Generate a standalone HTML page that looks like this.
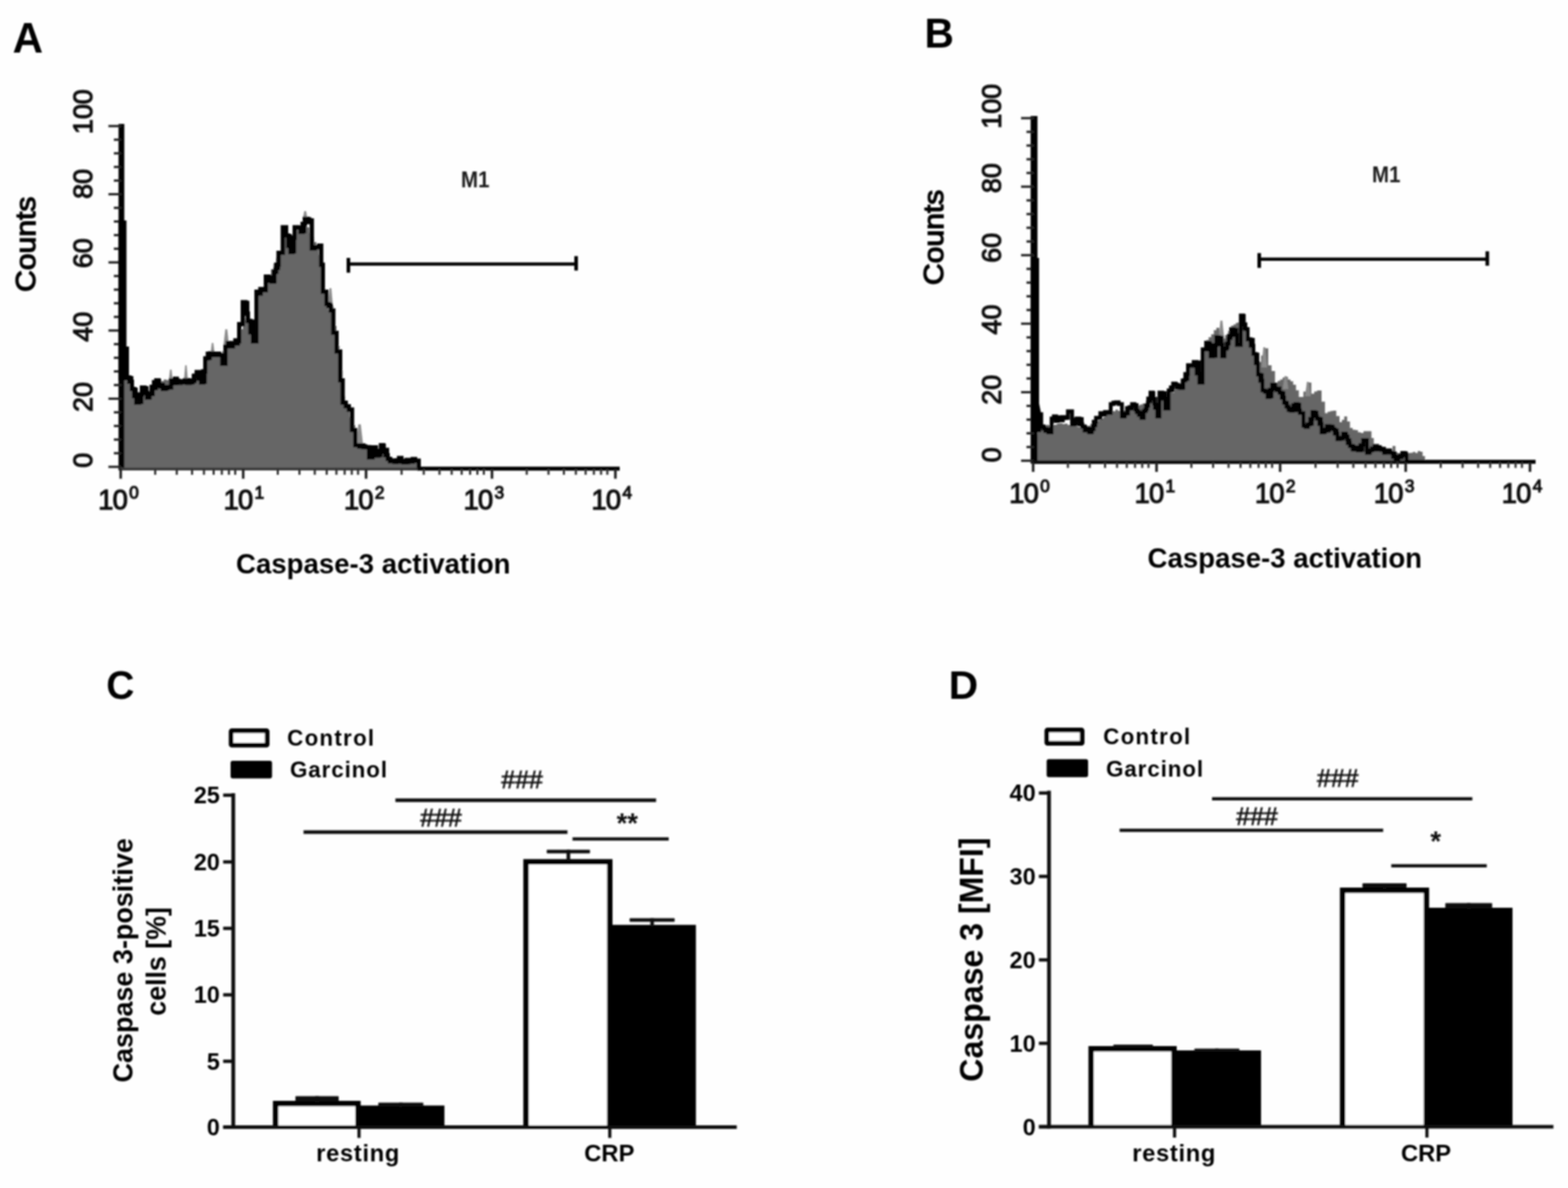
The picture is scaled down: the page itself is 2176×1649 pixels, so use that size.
<!DOCTYPE html>
<html lang="en"><head><meta charset="utf-8"><title>Caspase-3 activation figure</title>
<style>
html,body{margin:0;padding:0;background:#fefefe;}
body{width:2176px;height:1649px;overflow:hidden;}
svg{display:block;font-family:"Liberation Sans", Arial, Helvetica, sans-serif;}
</style></head>
<body>
<svg width="2176" height="1649" viewBox="0 0 2176 1649">
<defs><filter id="soft" x="-2%" y="-2%" width="104%" height="104%"><feGaussianBlur stdDeviation="1.3"/></filter></defs>
<rect width="2176" height="1649" fill="#fefefe"/>
<g filter="url(#soft)">
<text x="17.5" y="72.5" font-size="58.5" font-weight="bold" text-anchor="start" fill="#000">A</text>
<polygon points="168.5,651 172.0,524.0 175.7,524.0 175.7,528.5 179.3,528.5 179.3,533.5 183.0,533.5 183.0,538.0 189.0,538.0 189.0,550.0 192.8,550.0 192.8,550.0 196.5,550.0 196.5,547.4 200.2,547.4 200.2,546.3 204.0,546.3 204.0,545.0 207.2,545.0 207.2,541.0 210.5,541.0 210.5,535.6 213.8,535.6 213.8,532.3 217.0,532.3 217.0,528.0 220.4,528.0 220.4,528.4 223.8,528.4 223.8,528.9 227.2,528.9 227.2,526.8 230.7,526.8 230.7,527.4 234.1,527.4 234.1,526.8 237.5,526.8 237.5,528.0 240.8,528.0 240.8,529.3 244.0,529.3 244.0,529.3 247.2,529.3 247.2,527.8 250.5,527.8 250.5,530.9 253.8,530.9 253.8,531.3 257.0,531.3 257.0,530.7 260.2,530.7 260.2,531.0 263.5,531.0 263.5,531.0 267.4,531.0 267.4,527.7 271.2,527.7 271.2,525.0 275.1,525.0 275.1,524.3 279.0,524.3 279.0,522.0 285.0,522.0 285.0,497.6 288.8,497.6 288.8,495.4 292.6,495.4 292.6,494.8 296.4,494.8 296.4,494.1 300.2,494.1 300.2,492.5 304.0,492.5 304.0,493.0 308.5,493.0 308.5,486.9 313.0,486.9 313.0,481.0 316.4,481.0 316.4,479.4 319.8,479.4 319.8,479.2 323.2,479.2 323.2,476.9 326.6,476.9 326.6,475.8 330.0,475.8 330.0,474.0 333.5,474.0 333.5,457.0 337.0,457.0 337.0,440.0 340.5,440.0 340.5,444.2 344.0,444.2 344.0,447.4 347.5,447.4 347.5,450.6 351.0,450.6 351.0,455.0 356.0,455.0 356.0,405.0 359.2,405.0 359.2,402.7 362.5,402.7 362.5,399.0 365.8,399.0 365.8,394.8 369.0,394.8 369.0,390.0 372.5,390.0 372.5,382.8 376.0,382.8 376.0,373.8 379.6,373.8 379.6,365.8 383.1,365.8 383.1,358.2 386.6,358.2 386.6,351.0 392.5,351.0 392.5,325.0 396.0,325.0 396.0,327.0 399.5,327.0 399.5,332.5 403.0,332.5 403.0,335.0 409.0,335.0 409.0,320.0 412.5,320.0 412.5,316.2 416.0,316.2 416.0,314.0 419.5,314.0 419.5,309.2 423.0,309.2 423.0,306.0 426.2,306.0 426.2,315.4 429.5,315.4 429.5,323.0 432.7,323.0 432.7,330.0 435.9,330.0 435.9,336.0 439.2,336.0 439.2,344.1 442.4,344.1 442.4,353.7 445.7,353.7 445.7,360.0 448.0,360.0 448.0,400.0 451.7,400.0 451.7,408.2 455.3,408.2 455.3,418.1 459.0,418.1 459.0,425.0 463.0,425.0 463.0,452.2 467.0,452.2 467.0,480.0 471.2,480.0 471.2,513.7 475.5,513.7 475.5,550.0 478.8,550.0 478.8,560.4 482.0,560.4 482.0,570.8 485.2,570.8 485.2,579.3 488.5,579.3 488.5,590.0 493.0,590.0 493.0,612.0 496.6,612.0 496.6,612.9 500.2,612.9 500.2,615.8 503.8,615.8 503.8,619.9 507.4,619.9 507.4,620.7 510.9,620.7 510.9,622.7 514.5,622.7 514.5,622.0 518.0,622.0 518.0,623.6 521.6,623.6 521.6,624.4 525.2,624.4 525.2,625.5 528.7,625.5 528.7,628.0 533.4,628.0 533.4,633.4 538.0,633.4 538.0,637.0 541.5,637.0 541.5,636.4 544.9,636.4 544.9,637.9 548.4,637.9 548.4,637.9 551.8,637.9 551.8,637.5 555.3,637.5 555.3,639.5 558.7,639.5 558.7,638.1 562.2,638.1 562.2,640.0 565.6,640.0 565.6,638.8 569.1,638.8 569.1,640.0 572.5,640.0 572.5,639.8 576.0,639.8 576.0,641.0 581,641.0 581,649 581,651" fill="#666"/>
<polygon points="419.5,308 422.1666666666667,293 424.8333333333333,293 427.5,308" fill="#8a8a8a"/>
<polygon points="454.5,430 457.1666666666667,400 459.8333333333333,400 462.5,430" fill="#8a8a8a"/>
<polygon points="494,618 497.3333333333333,589 500.6666666666667,589 504,618" fill="#8a8a8a"/>
<polygon points="255,530 257.0,507 259.0,507 261,530" fill="#8a8a8a"/>
<polygon points="234,530 236.0,513 238.0,513 240,530" fill="#8a8a8a"/>
<polygon points="292,492 294.0,476 296.0,476 298,492" fill="#8a8a8a"/>
<polygon points="310,480 312.6666666666667,457 315.3333333333333,457 318,480" fill="#8a8a8a"/>
<polyline points="176.0,524.0 179.5,524.0 179.5,530.1 183.0,530.1 183.0,540.0 186.0,540.0 186.0,549.8 189.0,549.8 189.0,559.0 193.0,559.0 193.0,547.6 197.0,547.6 197.0,538.0 200.5,538.0 200.5,545.7 204.0,545.7 204.0,552.0 207.2,552.0 207.2,546.9 210.5,546.9 210.5,536.9 213.8,536.9 213.8,530.5 217.0,530.5 217.0,528.0 220.0,528.0 220.0,534.4 223.0,534.4 223.0,534.3 226.0,534.3 226.0,540.0 229.5,540.0 229.5,537.1 233.0,537.1 233.0,538.0 237.5,538.0 237.5,528.0 240.8,528.0 240.8,531.9 244.0,531.9 244.0,528.5 247.2,528.5 247.2,531.5 250.5,531.5 250.5,529.3 253.8,529.3 253.8,530.9 257.0,530.9 257.0,527.7 260.2,527.7 260.2,531.6 263.5,531.6 263.5,531.0 266.7,531.0 266.7,528.8 269.8,528.8 269.8,521.5 273.0,521.5 273.0,516.5 276.0,516.5 276.0,525.5 279.0,525.5 279.0,531.0 282.0,531.0 282.0,515.5 285.0,515.5 285.0,497.6 288.5,497.6 288.5,490.9 292.0,490.9 292.0,490.5 295.0,490.5 295.0,493.0 298.0,493.0 298.0,492.4 301.0,492.4 301.0,490.9 304.0,490.9 304.0,493.0 308.5,493.0 308.5,505.0 313.0,505.0 313.0,481.0 316.4,481.0 316.4,476.2 319.8,476.2 319.8,480.8 323.2,480.8 323.2,476.6 326.6,476.6 326.6,477.0 330.0,477.0 330.0,474.0 332.0,474.0 332.0,450.0 337.0,450.0 337.0,419.6 340.5,419.6 340.5,435.3 344.0,435.3 344.0,445.6 347.5,445.6 347.5,461.3 351.0,461.3 351.0,474.0 356.0,474.0 356.0,405.0 359.0,405.0 359.0,407.4 362.0,407.4 362.0,402.9 365.0,402.9 365.0,403.0 369.0,403.0 369.0,384.0 373.0,384.0 373.0,389.7 377.0,389.7 377.0,391.0 380.2,391.0 380.2,377.3 383.4,377.3 383.4,367.5 386.6,367.5 386.6,351.0 392.5,351.0 392.5,315.5 397.0,315.5 397.0,327.0 400.0,327.0 400.0,341.2 403.0,341.2 403.0,350.0 406.0,350.0 406.0,329.9 409.0,329.9 409.0,315.5 413.0,315.5 413.0,316.1 417.0,316.1 417.0,322.0 420.0,322.0 420.0,310.8 423.0,310.8 423.0,303.7 426.5,303.7 426.5,308.2 430.0,308.2 430.0,306.0 432.7,306.0 432.7,345.0 436.1,345.0 436.1,343.2 439.6,343.2 439.6,343.2 443.0,343.2 443.0,341.0 445.7,341.0 445.7,367.5 448.0,367.5 448.0,405.0 453.0,405.0 453.0,422.0 456.0,422.0 456.0,425.1 459.0,425.1 459.0,431.0 462.5,431.0 462.5,462.0 467.0,462.0 467.0,488.0 472.0,488.0 472.0,528.0 475.5,528.0 475.5,559.0 479.8,559.0 479.8,563.9 484.0,563.9 484.0,568.6 488.5,568.6 488.5,597.0 493.0,597.0 493.0,618.0 496.6,618.0 496.6,617.9 500.2,617.9 500.2,618.3 503.8,618.3 503.8,620.6 507.4,620.6 507.4,620.7 512.0,620.7 512.0,635.0 517.0,635.0 517.0,621.0 521.6,621.0 521.6,632.5 525.2,632.5 525.2,625.9 528.7,625.9 528.7,618.0 531.8,618.0 531.8,627.2 534.9,627.2 534.9,632.0 538.0,632.0 538.0,637.0 541.2,637.0 541.2,640.3 544.3,640.3 544.3,640.0 547.5,640.0 547.5,641.2 550.7,641.2 550.7,639.1 553.8,639.1 553.8,635.7 557.0,635.7 557.0,640.9 560.2,640.9 560.2,641.9 563.3,641.9 563.3,641.6 566.5,641.6 566.5,639.4 569.7,639.4 569.7,640.7 572.8,640.7 572.8,637.3 576.0,637.3 576.0,639.6 581,639.6 581,649" fill="none" stroke="#000" stroke-width="6" stroke-linejoin="miter"/>
<polyline points="176.0,524.0 183.0,524.0 183.0,540.0 189.0,540.0 189.0,559.0 197.0,559.0 197.0,538.0 204.0,538.0 204.0,552.0 208.3,552.0 208.3,547.8 212.7,547.8 212.7,540.0 217.0,540.0 217.0,528.0 221.5,528.0 221.5,537.5 226.0,537.5 226.0,540.0 233.0,540.0 233.0,538.0 237.5,538.0 237.5,528.0 241.8,528.0 241.8,524.8 246.2,524.8 246.2,529.8 250.5,529.8 250.5,528.8 254.8,528.8 254.8,530.3 259.2,530.3 259.2,527.2 263.5,527.2 263.5,531.0 268.2,531.0 268.2,521.0 273.0,521.0 273.0,516.5 279.0,516.5 279.0,531.0 285.0,531.0 285.0,497.6 292.0,497.6 292.0,490.5 298.0,490.5 298.0,491.3 304.0,491.3 304.0,493.0 308.5,493.0 308.5,505.0 313.0,505.0 313.0,481.0 317.2,481.0 317.2,476.7 321.5,476.7 321.5,477.1 325.8,477.1 325.8,471.5 330.0,471.5 330.0,474.0 332.0,474.0 332.0,450.0 337.0,450.0 337.0,419.6 344.0,419.6 344.0,445.6 351.0,445.6 351.0,474.0 356.0,474.0 356.0,405.0 360.5,405.0 360.5,400.3 365.0,400.3 365.0,403.0 369.0,403.0 369.0,384.0 377.0,384.0 377.0,391.0 381.8,391.0 381.8,372.9 386.6,372.9 386.6,351.0 392.5,351.0 392.5,315.5 397.0,315.5 397.0,327.0 403.0,327.0 403.0,350.0 409.0,350.0 409.0,315.5 417.0,315.5 417.0,322.0 423.0,322.0 423.0,303.7 430.0,303.7 430.0,306.0 432.7,306.0 432.7,345.0 437.9,345.0 437.9,342.3 443.0,342.3 443.0,341.0 445.7,341.0 445.7,367.5 448.0,367.5 448.0,405.0 453.0,405.0 453.0,422.0 459.0,422.0 459.0,431.0 462.5,431.0 462.5,462.0 467.0,462.0 467.0,488.0 472.0,488.0 472.0,528.0 475.5,528.0 475.5,559.0 479.8,559.0 479.8,563.9 484.0,563.9 484.0,568.6 488.5,568.6 488.5,597.0 493.0,597.0 493.0,618.0 497.8,618.0 497.8,621.0 502.6,621.0 502.6,618.5 507.4,618.5 507.4,620.7 512.0,620.7 512.0,635.0 517.0,635.0 517.0,621.0 521.6,621.0 521.6,632.5 528.7,632.5 528.7,618.0 533.4,618.0 533.4,623.5 538.0,623.5 538.0,637.0 542.2,637.0 542.2,639.8 546.4,639.8 546.4,638.4 550.7,638.4 550.7,639.3 554.9,639.3 554.9,639.2 559.1,639.2 559.1,642.7 563.3,642.7 563.3,637.5 567.6,637.5 567.6,641.4 571.8,641.4 571.8,638.1 576.0,638.1 576.0,639.6 581,639.6 581,649" fill="none" stroke="#000" stroke-width="4.2" stroke-linejoin="miter"/>
<rect x="164.5" y="172" width="8.0" height="481" fill="#000" rx="0"/>
<line x1="150.5" y1="648.0" x2="168.5" y2="648.0" stroke="#222" stroke-width="3.2" stroke-linecap="butt"/>
<line x1="158.0" y1="629.08" x2="168.5" y2="629.08" stroke="#222" stroke-width="3.2" stroke-linecap="butt"/>
<line x1="158.0" y1="610.16" x2="168.5" y2="610.16" stroke="#222" stroke-width="3.2" stroke-linecap="butt"/>
<line x1="158.0" y1="591.24" x2="168.5" y2="591.24" stroke="#222" stroke-width="3.2" stroke-linecap="butt"/>
<line x1="158.0" y1="572.3199999999999" x2="168.5" y2="572.3199999999999" stroke="#222" stroke-width="3.2" stroke-linecap="butt"/>
<line x1="150.5" y1="553.4" x2="168.5" y2="553.4" stroke="#222" stroke-width="3.2" stroke-linecap="butt"/>
<line x1="158.0" y1="534.48" x2="168.5" y2="534.48" stroke="#222" stroke-width="3.2" stroke-linecap="butt"/>
<line x1="158.0" y1="515.56" x2="168.5" y2="515.56" stroke="#222" stroke-width="3.2" stroke-linecap="butt"/>
<line x1="158.0" y1="496.64" x2="168.5" y2="496.64" stroke="#222" stroke-width="3.2" stroke-linecap="butt"/>
<line x1="158.0" y1="477.71999999999997" x2="168.5" y2="477.71999999999997" stroke="#222" stroke-width="3.2" stroke-linecap="butt"/>
<line x1="150.5" y1="458.79999999999995" x2="168.5" y2="458.79999999999995" stroke="#222" stroke-width="3.2" stroke-linecap="butt"/>
<line x1="158.0" y1="439.88" x2="168.5" y2="439.88" stroke="#222" stroke-width="3.2" stroke-linecap="butt"/>
<line x1="158.0" y1="420.96" x2="168.5" y2="420.96" stroke="#222" stroke-width="3.2" stroke-linecap="butt"/>
<line x1="158.0" y1="402.03999999999996" x2="168.5" y2="402.03999999999996" stroke="#222" stroke-width="3.2" stroke-linecap="butt"/>
<line x1="158.0" y1="383.12" x2="168.5" y2="383.12" stroke="#222" stroke-width="3.2" stroke-linecap="butt"/>
<line x1="150.5" y1="364.2" x2="168.5" y2="364.2" stroke="#222" stroke-width="3.2" stroke-linecap="butt"/>
<line x1="158.0" y1="345.28" x2="168.5" y2="345.28" stroke="#222" stroke-width="3.2" stroke-linecap="butt"/>
<line x1="158.0" y1="326.35999999999996" x2="168.5" y2="326.35999999999996" stroke="#222" stroke-width="3.2" stroke-linecap="butt"/>
<line x1="158.0" y1="307.43999999999994" x2="168.5" y2="307.43999999999994" stroke="#222" stroke-width="3.2" stroke-linecap="butt"/>
<line x1="158.0" y1="288.52" x2="168.5" y2="288.52" stroke="#222" stroke-width="3.2" stroke-linecap="butt"/>
<line x1="150.5" y1="269.59999999999997" x2="168.5" y2="269.59999999999997" stroke="#222" stroke-width="3.2" stroke-linecap="butt"/>
<line x1="158.0" y1="250.67999999999995" x2="168.5" y2="250.67999999999995" stroke="#222" stroke-width="3.2" stroke-linecap="butt"/>
<line x1="158.0" y1="231.76" x2="168.5" y2="231.76" stroke="#222" stroke-width="3.2" stroke-linecap="butt"/>
<line x1="158.0" y1="212.83999999999997" x2="168.5" y2="212.83999999999997" stroke="#222" stroke-width="3.2" stroke-linecap="butt"/>
<line x1="158.0" y1="193.91999999999996" x2="168.5" y2="193.91999999999996" stroke="#222" stroke-width="3.2" stroke-linecap="butt"/>
<line x1="150.5" y1="174.99999999999994" x2="168.5" y2="174.99999999999994" stroke="#222" stroke-width="3.2" stroke-linecap="butt"/>
<text x="127.5" y="186.0" font-size="37.5" font-weight="normal" text-anchor="start" fill="#111" textLength="61.94" lengthAdjust="spacingAndGlyphs" transform="rotate(-90 127.5 186.0)" stroke="#111" stroke-width="1.5">100</text>
<text x="127.5" y="276.0" font-size="37.5" font-weight="normal" text-anchor="start" fill="#111" textLength="41.3" lengthAdjust="spacingAndGlyphs" transform="rotate(-90 127.5 276.0)" stroke="#111" stroke-width="1.5">80</text>
<text x="127.5" y="372.25" font-size="37.5" font-weight="normal" text-anchor="start" fill="#111" textLength="41.3" lengthAdjust="spacingAndGlyphs" transform="rotate(-90 127.5 372.25)" stroke="#111" stroke-width="1.5">60</text>
<text x="127.5" y="474.25" font-size="37.5" font-weight="normal" text-anchor="start" fill="#111" textLength="41.3" lengthAdjust="spacingAndGlyphs" transform="rotate(-90 127.5 474.25)" stroke="#111" stroke-width="1.5">40</text>
<text x="127.5" y="571.75" font-size="37.5" font-weight="normal" text-anchor="start" fill="#111" textLength="41.3" lengthAdjust="spacingAndGlyphs" transform="rotate(-90 127.5 571.75)" stroke="#111" stroke-width="1.5">20</text>
<text x="127.5" y="649.25" font-size="37.5" font-weight="normal" text-anchor="start" fill="#111" textLength="20.65" lengthAdjust="spacingAndGlyphs" transform="rotate(-90 127.5 649.25)" stroke="#111" stroke-width="1.5">0</text>
<text x="48.7" y="339" font-size="39" font-weight="normal" text-anchor="middle" fill="#000" textLength="132.5" lengthAdjust="spacingAndGlyphs" transform="rotate(-90 48.7 339)" stroke="#000" stroke-width="1.6">Counts</text>
<line x1="166.5" y1="651" x2="581" y2="651" stroke="#3a3a3a" stroke-width="4.0" stroke-linecap="butt"/>
<line x1="579" y1="650.5" x2="860" y2="650.5" stroke="#000" stroke-width="5.5" stroke-linecap="butt"/>
<line x1="167.5" y1="651" x2="167.5" y2="664.5" stroke="#222" stroke-width="3.6" stroke-linecap="butt"/>
<line x1="215.3750992628768" y1="651" x2="215.3750992628768" y2="659" stroke="#333" stroke-width="3.0" stroke-linecap="butt"/>
<line x1="245.3106133023426" y1="651" x2="245.3106133023426" y2="659" stroke="#333" stroke-width="3.0" stroke-linecap="butt"/>
<line x1="266.5501985257536" y1="651" x2="266.5501985257536" y2="659" stroke="#333" stroke-width="3.0" stroke-linecap="butt"/>
<line x1="283.0249007371232" y1="651" x2="283.0249007371232" y2="659" stroke="#333" stroke-width="3.0" stroke-linecap="butt"/>
<line x1="296.48571256521944" y1="651" x2="296.48571256521944" y2="659" stroke="#333" stroke-width="3.0" stroke-linecap="butt"/>
<line x1="307.86666680242365" y1="651" x2="307.86666680242365" y2="659" stroke="#333" stroke-width="3.0" stroke-linecap="butt"/>
<line x1="317.72529778863037" y1="651" x2="317.72529778863037" y2="659" stroke="#333" stroke-width="3.0" stroke-linecap="butt"/>
<line x1="326.4212266046852" y1="651" x2="326.4212266046852" y2="659" stroke="#333" stroke-width="3.0" stroke-linecap="butt"/>
<text x="136.25" y="707.2" font-size="38" fill="#111" stroke="#111" stroke-width="1.4" letter-spacing="-1.2">10<tspan font-size="24" dy="-15" dx="3">0</tspan></text>
<line x1="337.5" y1="651" x2="337.5" y2="664.5" stroke="#222" stroke-width="3.6" stroke-linecap="butt"/>
<line x1="385.5256142607088" y1="651" x2="385.5256142607088" y2="659" stroke="#333" stroke-width="3.0" stroke-linecap="butt"/>
<line x1="415.5491739297024" y1="651" x2="415.5491739297024" y2="659" stroke="#333" stroke-width="3.0" stroke-linecap="butt"/>
<line x1="436.85122852141757" y1="651" x2="436.85122852141757" y2="659" stroke="#333" stroke-width="3.0" stroke-linecap="butt"/>
<line x1="453.3743857392912" y1="651" x2="453.3743857392912" y2="659" stroke="#333" stroke-width="3.0" stroke-linecap="butt"/>
<line x1="466.87478819041127" y1="651" x2="466.87478819041127" y2="659" stroke="#333" stroke-width="3.0" stroke-linecap="butt"/>
<line x1="478.2892158224308" y1="651" x2="478.2892158224308" y2="659" stroke="#333" stroke-width="3.0" stroke-linecap="butt"/>
<line x1="488.17684278212636" y1="651" x2="488.17684278212636" y2="659" stroke="#333" stroke-width="3.0" stroke-linecap="butt"/>
<line x1="496.89834785940485" y1="651" x2="496.89834785940485" y2="659" stroke="#333" stroke-width="3.0" stroke-linecap="butt"/>
<text x="310.25" y="707.2" font-size="38" fill="#111" stroke="#111" stroke-width="1.4" letter-spacing="-1.2">10<tspan font-size="24" dy="-15" dx="3">1</tspan></text>
<line x1="508" y1="651" x2="508" y2="664.5" stroke="#222" stroke-width="3.6" stroke-linecap="butt"/>
<line x1="557.3049917422808" y1="651" x2="557.3049917422808" y2="659" stroke="#333" stroke-width="3.0" stroke-linecap="butt"/>
<line x1="588.076939262261" y1="651" x2="588.076939262261" y2="659" stroke="#333" stroke-width="3.0" stroke-linecap="butt"/>
<line x1="609.9099834845615" y1="651" x2="609.9099834845615" y2="659" stroke="#333" stroke-width="3.0" stroke-linecap="butt"/>
<line x1="626.8450082577193" y1="651" x2="626.8450082577193" y2="659" stroke="#333" stroke-width="3.0" stroke-linecap="butt"/>
<line x1="640.6819310045418" y1="651" x2="640.6819310045418" y2="659" stroke="#333" stroke-width="3.0" stroke-linecap="butt"/>
<line x1="652.3808824924914" y1="651" x2="652.3808824924914" y2="659" stroke="#333" stroke-width="3.0" stroke-linecap="butt"/>
<line x1="662.5149752268421" y1="651" x2="662.5149752268421" y2="659" stroke="#333" stroke-width="3.0" stroke-linecap="butt"/>
<line x1="671.453878524522" y1="651" x2="671.453878524522" y2="659" stroke="#333" stroke-width="3.0" stroke-linecap="butt"/>
<text x="477.25" y="707.2" font-size="38" fill="#111" stroke="#111" stroke-width="1.4" letter-spacing="-1.2">10<tspan font-size="24" dy="-15" dx="3">2</tspan></text>
<line x1="682.75" y1="651" x2="682.75" y2="664.5" stroke="#222" stroke-width="3.6" stroke-linecap="butt"/>
<line x1="731.0013867574569" y1="651" x2="731.0013867574569" y2="659" stroke="#333" stroke-width="3.0" stroke-linecap="butt"/>
<line x1="761.1570148707423" y1="651" x2="761.1570148707423" y2="659" stroke="#333" stroke-width="3.0" stroke-linecap="butt"/>
<line x1="782.5527735149136" y1="651" x2="782.5527735149136" y2="659" stroke="#333" stroke-width="3.0" stroke-linecap="butt"/>
<line x1="799.1486132425433" y1="651" x2="799.1486132425433" y2="659" stroke="#333" stroke-width="3.0" stroke-linecap="butt"/>
<line x1="812.708401628199" y1="651" x2="812.708401628199" y2="659" stroke="#333" stroke-width="3.0" stroke-linecap="butt"/>
<line x1="824.1730393524415" y1="651" x2="824.1730393524415" y2="659" stroke="#333" stroke-width="3.0" stroke-linecap="butt"/>
<line x1="834.1041602723703" y1="651" x2="834.1041602723703" y2="659" stroke="#333" stroke-width="3.0" stroke-linecap="butt"/>
<line x1="842.8640297414844" y1="651" x2="842.8640297414844" y2="659" stroke="#333" stroke-width="3.0" stroke-linecap="butt"/>
<text x="643.25" y="707.2" font-size="38" fill="#111" stroke="#111" stroke-width="1.4" letter-spacing="-1.2">10<tspan font-size="24" dy="-15" dx="3">3</tspan></text>
<line x1="854" y1="651" x2="854" y2="664.5" stroke="#222" stroke-width="3.6" stroke-linecap="butt"/>
<text x="820.75" y="707.2" font-size="38" fill="#111" stroke="#111" stroke-width="1.4" letter-spacing="-1.2">10<tspan font-size="24" dy="-15" dx="3">4</tspan></text>
<text x="327.5" y="796" font-size="39.5" font-weight="bold" text-anchor="start" fill="#000" textLength="381" lengthAdjust="spacingAndGlyphs">Caspase-3 activation</text>
<line x1="483.5" y1="366.5" x2="800.5" y2="366.5" stroke="#000" stroke-width="4.6" stroke-linecap="butt"/>
<line x1="483.5" y1="358.0" x2="483.5" y2="378.5" stroke="#000" stroke-width="5" stroke-linecap="butt"/>
<line x1="799.5" y1="355.5" x2="799.5" y2="375.5" stroke="#000" stroke-width="5" stroke-linecap="butt"/>
<text x="659.5" y="260.0" font-size="31.5" font-weight="bold" text-anchor="middle" fill="#1c1c1c" textLength="39.38" lengthAdjust="spacingAndGlyphs">M1</text>
<polygon points="164.5,306 175.5,306 175.5,481 179,481 179,528 172,528 164.5,528" fill="#000"/>
<text x="1283" y="65.5" font-size="56.5" font-weight="bold" text-anchor="start" fill="#000">B</text>
<polygon points="1435,641.5 1440.5,592.0 1444.3,592.0 1444.3,590.3 1448.1,590.3 1448.1,592.4 1451.8,592.4 1451.8,589.8 1455.6,589.8 1455.6,590.2 1459.4,590.2 1459.4,590.0 1463.1,590.0 1463.1,589.5 1466.8,589.5 1466.8,587.9 1470.6,587.9 1470.6,587.5 1474.3,587.5 1474.3,588.4 1478.0,588.4 1478.0,588.0 1481.4,588.0 1481.4,589.8 1484.9,589.8 1484.9,589.5 1488.3,589.5 1488.3,591.1 1491.7,591.1 1491.7,591.3 1495.1,591.3 1495.1,592.6 1498.6,592.6 1498.6,593.4 1502.0,593.4 1502.0,594.0 1505.8,594.0 1505.8,591.6 1509.6,591.6 1509.6,591.1 1513.4,591.1 1513.4,587.9 1517.2,587.9 1517.2,587.9 1521.0,587.9 1521.0,585.0 1524.4,585.0 1524.4,582.9 1527.8,582.9 1527.8,581.1 1531.2,581.1 1531.2,578.7 1534.6,578.7 1534.6,574.0 1538.0,574.0 1538.0,572.3 1541.4,572.3 1541.4,570.0 1544.7,570.0 1544.7,570.7 1548.0,570.7 1548.0,568.5 1551.3,568.5 1551.3,570.2 1554.6,570.2 1554.6,570.2 1557.8,570.2 1557.8,569.8 1561.1,569.8 1561.1,570.0 1564.4,570.0 1564.4,567.0 1567.7,567.0 1567.7,568.6 1571.0,568.6 1571.0,568.0 1574.7,568.0 1574.7,566.7 1578.3,566.7 1578.3,562.8 1582.0,562.8 1582.0,561.5 1585.6,561.5 1585.6,560.1 1589.3,560.1 1589.3,559.4 1592.9,559.4 1592.9,557.4 1596.6,557.4 1596.6,555.0 1600.2,555.0 1600.2,552.9 1603.8,552.9 1603.8,550.6 1607.4,550.6 1607.4,549.6 1611.0,549.6 1611.0,548.7 1614.6,548.7 1614.6,548.1 1618.2,548.1 1618.2,545.1 1621.8,545.1 1621.8,545.0 1625.7,545.0 1625.7,544.7 1629.7,544.7 1629.7,540.8 1633.6,540.8 1633.6,540.4 1637.5,540.4 1637.5,538.7 1641.2,538.7 1641.2,528.5 1644.9,528.5 1644.9,516.8 1648.6,516.8 1648.6,507.0 1652.5,507.0 1652.5,506.0 1656.5,506.0 1656.5,503.4 1660.5,503.4 1660.5,502.9 1664.4,502.9 1664.4,500.0 1669.1,500.0 1669.1,487.2 1673.8,487.2 1673.8,472.0 1677.3,472.0 1677.3,468.1 1680.9,468.1 1680.9,464.0 1684.5,464.0 1684.5,458.2 1688.0,458.2 1688.0,455.0 1692.0,455.0 1692.0,462.1 1696.0,462.1 1696.0,470.0 1700.2,470.0 1700.2,465.1 1704.3,465.1 1704.3,459.3 1708.5,459.3 1708.5,452.0 1711.9,452.0 1711.9,450.2 1715.2,450.2 1715.2,448.1 1718.6,448.1 1718.6,446.7 1722.0,446.7 1722.0,445.0 1726.8,445.0 1726.8,457.6 1731.5,457.6 1731.5,468.0 1735.0,468.0 1735.0,475.7 1738.6,475.7 1738.6,486.4 1742.2,486.4 1742.2,495.1 1745.7,495.1 1745.7,502.5 1750.1,502.5 1750.1,493.4 1754.4,493.4 1754.4,483.6 1760.0,483.6 1760.0,507.0 1764.6,507.0 1764.6,515.0 1769.4,515.0 1769.4,531.0 1773.0,531.0 1773.0,528.8 1776.5,528.8 1776.5,526.7 1780.0,526.7 1780.0,524.1 1783.6,524.1 1783.6,523.0 1787.3,523.0 1787.3,526.7 1790.9,526.7 1790.9,529.2 1794.6,529.2 1794.6,534.0 1798.5,534.0 1798.5,541.8 1802.5,541.8 1802.5,551.0 1808.8,551.0 1808.8,543.5 1815.0,543.5 1815.0,531.0 1819.8,531.0 1819.8,546.6 1823.8,546.6 1823.8,543.4 1827.7,543.4 1827.7,542.0 1834.0,542.0 1834.0,557.6 1838.7,557.6 1838.7,573.4 1842.4,573.4 1842.4,571.6 1846.1,571.6 1846.1,570.5 1849.8,570.5 1849.8,570.0 1854.4,570.0 1854.4,577.4 1859.0,577.4 1859.0,586.0 1862.2,586.0 1862.2,582.8 1865.5,582.8 1865.5,578.0 1869.5,578.0 1869.5,585.1 1873.4,585.1 1873.4,594.0 1877.1,594.0 1877.1,596.4 1880.8,596.4 1880.8,597.1 1884.5,597.1 1884.5,600.0 1888.4,600.0 1888.4,600.9 1892.2,600.9 1892.2,598.4 1896.1,598.4 1896.1,598.6 1900.0,598.6 1900.0,598.6 1903.2,598.6 1903.2,608.0 1906.5,608.0 1906.5,616.0 1910.2,616.0 1910.2,616.1 1913.9,616.1 1913.9,618.6 1917.6,618.6 1917.6,620.7 1922.3,620.7 1922.3,623.2 1927.0,623.2 1927.0,627.0 1932.5,627.0 1932.5,619.0 1936.5,619.0 1936.5,628.6 1940.0,628.6 1940.0,629.1 1943.4,629.1 1943.4,628.6 1946.8,628.6 1946.8,629.0 1950.3,629.0 1950.3,626.7 1953.8,626.7 1953.8,628.8 1957.2,628.8 1957.2,628.5 1960.7,628.5 1960.7,627.2 1964.1,627.2 1964.1,628.7 1967.5,628.7 1967.5,626.1 1971.0,626.1 1971.0,627.0 1974.2,627.0 1974.2,633.1 1977.5,633.1 1977.5,639.6 1977.5,641.5" fill="#666"/>
<polygon points="1691,470 1693.6666666666667,445 1696.3333333333333,445 1699,470" fill="#8a8a8a"/>
<polygon points="1750.5,510 1753.1666666666667,482 1755.8333333333333,482 1758.5,510" fill="#8a8a8a"/>
<polygon points="1811,550 1813.6666666666667,530 1816.3333333333333,530 1819,550" fill="#8a8a8a"/>
<polygon points="1780,540 1782.6666666666667,522 1785.3333333333333,522 1788,540" fill="#8a8a8a"/>
<polyline points="1440.5,575.0 1445.0,575.0 1445.0,592.0 1448.2,592.0 1448.2,595.1 1451.5,595.1 1451.5,595.6 1454.7,595.6 1454.7,600.0 1459.4,600.0 1459.4,581.0 1462.5,581.0 1462.5,577.8 1465.6,577.8 1465.6,582.9 1468.7,582.9 1468.7,580.4 1471.8,580.4 1471.8,583.5 1474.9,583.5 1474.9,580.3 1478.0,580.3 1478.0,580.0 1482.0,580.0 1482.0,571.0 1487.8,571.0 1487.8,589.0 1490.9,589.0 1490.9,582.5 1494.0,582.5 1494.0,581.0 1498.0,581.0 1498.0,589.1 1502.0,589.1 1502.0,592.0 1505.1,592.0 1505.1,597.7 1508.3,597.7 1508.3,597.7 1511.4,597.7 1511.4,600.0 1514.6,600.0 1514.6,595.5 1517.8,595.5 1517.8,585.4 1521.0,585.4 1521.0,580.0 1524.0,580.0 1524.0,579.9 1527.0,579.9 1527.0,573.4 1530.2,573.4 1530.2,575.6 1533.5,575.6 1533.5,571.8 1536.7,571.8 1536.7,573.4 1541.4,573.4 1541.4,560.8 1545.1,560.8 1545.1,558.9 1548.7,558.9 1548.7,558.5 1552.4,558.5 1552.4,560.8 1557.0,560.8 1557.0,578.0 1560.5,578.0 1560.5,574.2 1564.0,574.2 1564.0,566.4 1567.5,566.4 1567.5,565.1 1571.0,565.1 1571.0,560.8 1574.2,560.8 1574.2,562.4 1577.5,562.4 1577.5,572.0 1580.8,572.0 1580.8,573.2 1584.0,573.2 1584.0,580.0 1587.2,580.0 1587.2,570.6 1590.3,570.6 1590.3,563.0 1593.4,563.0 1593.4,553.2 1596.6,553.2 1596.6,545.0 1599.7,545.0 1599.7,554.0 1602.9,554.0 1602.9,566.1 1606.0,566.1 1606.0,578.0 1609.0,578.0 1609.0,545.0 1613.0,545.0 1613.0,553.7 1617.0,553.7 1617.0,567.0 1621.8,567.0 1621.8,542.0 1624.9,542.0 1624.9,537.7 1628.0,537.7 1628.0,532.4 1631.2,532.4 1631.2,534.2 1634.3,534.2 1634.3,535.2 1637.5,535.2 1637.5,538.7 1641.2,538.7 1641.2,528.2 1644.9,528.2 1644.9,519.2 1648.6,519.2 1648.6,507.0 1652.5,507.0 1652.5,507.9 1656.5,507.9 1656.5,502.5 1660.5,502.5 1660.5,518.6 1664.4,518.6 1664.4,531.0 1669.0,531.0 1669.0,485.0 1673.8,485.0 1673.8,475.7 1676.9,475.7 1676.9,485.1 1680.0,485.1 1680.0,494.6 1684.0,494.6 1684.0,478.9 1688.0,478.9 1688.0,467.8 1692.0,467.8 1692.0,478.4 1696.0,478.4 1696.0,494.6 1699.1,494.6 1699.1,484.3 1702.2,484.3 1702.2,476.8 1705.4,476.8 1705.4,466.1 1708.5,466.1 1708.5,456.8 1712.5,456.8 1712.5,465.0 1716.4,465.0 1716.4,478.8 1722.0,478.8 1722.0,437.8 1725.2,437.8 1725.2,450.1 1728.3,450.1 1728.3,456.9 1731.5,456.9 1731.5,471.0 1735.5,471.0 1735.5,479.9 1739.4,479.9 1739.4,491.4 1742.6,491.4 1742.6,504.3 1745.7,504.3 1745.7,519.8 1748.8,519.8 1748.8,528.5 1752.0,528.5 1752.0,541.9 1755.5,541.9 1755.5,543.8 1759.0,543.8 1759.0,551.0 1762.2,551.0 1762.2,541.0 1765.4,541.0 1765.4,534.0 1768.8,534.0 1768.8,539.2 1772.3,539.2 1772.3,539.1 1775.7,539.1 1775.7,545.0 1778.8,545.0 1778.8,552.0 1782.0,552.0 1782.0,559.0 1785.1,559.0 1785.1,564.4 1788.3,564.4 1788.3,569.1 1791.4,569.1 1791.4,570.0 1794.6,570.0 1794.6,562.4 1797.7,562.4 1797.7,560.8 1800.8,560.8 1800.8,569.6 1804.0,569.6 1804.0,573.4 1808.8,573.4 1808.8,590.8 1811.9,590.8 1811.9,592.5 1815.0,592.5 1815.0,589.0 1818.2,589.0 1818.2,581.4 1821.4,581.4 1821.4,571.8 1824.6,571.8 1824.6,577.6 1827.7,577.6 1827.7,581.0 1830.8,581.0 1830.8,588.5 1834.0,588.5 1834.0,600.0 1837.7,600.0 1837.7,596.2 1841.3,596.2 1841.3,591.5 1845.0,591.5 1845.0,592.0 1848.7,592.0 1848.7,595.6 1852.3,595.6 1852.3,601.8 1856.0,601.8 1856.0,609.7 1860.0,609.7 1860.0,607.3 1864.0,607.3 1864.0,601.8 1867.1,601.8 1867.1,605.8 1870.3,605.8 1870.3,615.1 1873.4,615.1 1873.4,619.0 1877.1,619.0 1877.1,623.9 1880.8,623.9 1880.8,621.0 1884.5,621.0 1884.5,625.4 1888.0,625.4 1888.0,617.7 1891.5,617.7 1891.5,611.0 1897.0,611.0 1897.0,628.6 1900.5,628.6 1900.5,625.4 1904.0,625.4 1904.0,622.4 1907.5,622.4 1907.5,619.5 1911.0,619.5 1911.0,620.7 1914.2,620.7 1914.2,623.8 1917.5,623.8 1917.5,622.9 1920.7,622.9 1920.7,628.6 1923.8,628.6 1923.8,627.1 1926.9,627.1 1926.9,628.4 1930.0,628.4 1930.0,628.6 1933.2,628.6 1933.2,634.4 1936.5,634.4 1936.5,639.6 1939.7,639.6 1939.7,634.0 1942.8,634.0 1942.8,632.5 1946.0,632.5 1946.0,628.6 1949.0,628.6 1949.0,632.2 1952,632.2 1952,639.6" fill="none" stroke="#000" stroke-width="5.3" stroke-linejoin="miter"/>
<polyline points="1440.5,575.0 1445.0,575.0 1445.0,592.0 1449.8,592.0 1449.8,599.1 1454.7,599.1 1454.7,600.0 1459.4,600.0 1459.4,581.0 1464.1,581.0 1464.1,585.1 1468.7,585.1 1468.7,578.3 1473.3,578.3 1473.3,578.2 1478.0,578.2 1478.0,580.0 1482.0,580.0 1482.0,571.0 1487.8,571.0 1487.8,589.0 1494.0,589.0 1494.0,581.0 1502.0,581.0 1502.0,592.0 1506.7,592.0 1506.7,594.1 1511.4,594.1 1511.4,600.0 1516.2,600.0 1516.2,591.0 1521.0,591.0 1521.0,580.0 1527.0,580.0 1527.0,573.4 1531.8,573.4 1531.8,573.6 1536.7,573.6 1536.7,573.4 1541.4,573.4 1541.4,560.8 1546.9,560.8 1546.9,559.7 1552.4,559.7 1552.4,560.8 1557.0,560.8 1557.0,578.0 1561.7,578.0 1561.7,574.7 1566.3,574.7 1566.3,568.0 1571.0,568.0 1571.0,560.8 1575.3,560.8 1575.3,569.3 1579.7,569.3 1579.7,576.6 1584.0,576.6 1584.0,580.0 1588.2,580.0 1588.2,568.4 1592.4,568.4 1592.4,558.1 1596.6,558.1 1596.6,545.0 1601.3,545.0 1601.3,561.2 1606.0,561.2 1606.0,578.0 1609.0,578.0 1609.0,545.0 1617.0,545.0 1617.0,567.0 1621.8,567.0 1621.8,542.0 1628.0,542.0 1628.0,532.4 1632.8,532.4 1632.8,538.9 1637.5,538.9 1637.5,538.7 1643.0,538.7 1643.0,526.8 1648.6,526.8 1648.6,507.0 1656.5,507.0 1656.5,502.5 1664.4,502.5 1664.4,531.0 1669.0,531.0 1669.0,485.0 1673.8,485.0 1673.8,475.7 1680.0,475.7 1680.0,494.6 1688.0,494.6 1688.0,467.8 1696.0,467.8 1696.0,494.6 1700.2,494.6 1700.2,482.9 1704.3,482.9 1704.3,469.9 1708.5,469.9 1708.5,456.8 1716.4,456.8 1716.4,478.8 1722.0,478.8 1722.0,437.8 1726.8,437.8 1726.8,456.1 1731.5,456.1 1731.5,471.0 1739.4,471.0 1739.4,491.4 1745.7,491.4 1745.7,519.8 1752.0,519.8 1752.0,541.9 1759.0,541.9 1759.0,551.0 1765.4,551.0 1765.4,534.0 1770.6,534.0 1770.6,542.4 1775.7,542.4 1775.7,545.0 1782.0,545.0 1782.0,559.0 1786.7,559.0 1786.7,566.4 1791.4,566.4 1791.4,570.0 1797.7,570.0 1797.7,560.8 1804.0,560.8 1804.0,573.4 1808.8,573.4 1808.8,590.8 1815.0,590.8 1815.0,589.0 1821.4,589.0 1821.4,571.8 1827.7,571.8 1827.7,581.0 1834.0,581.0 1834.0,600.0 1839.5,600.0 1839.5,598.5 1845.0,598.5 1845.0,592.0 1850.5,592.0 1850.5,596.7 1856.0,596.7 1856.0,609.7 1864.0,609.7 1864.0,601.8 1868.7,601.8 1868.7,610.5 1873.4,610.5 1873.4,619.0 1879.0,619.0 1879.0,624.9 1884.5,624.9 1884.5,625.4 1891.5,625.4 1891.5,611.0 1897.0,611.0 1897.0,628.6 1901.7,628.6 1901.7,624.3 1906.3,624.3 1906.3,625.1 1911.0,625.1 1911.0,620.7 1915.8,620.7 1915.8,625.3 1920.7,625.3 1920.7,628.6 1925.3,628.6 1925.3,624.4 1930.0,624.4 1930.0,628.6 1936.5,628.6 1936.5,639.6 1941.2,639.6 1941.2,635.7 1946.0,635.7 1946.0,628.6 1952,628.6 1952,639.6" fill="none" stroke="#000" stroke-width="3.8" stroke-linejoin="miter"/>
<rect x="1430.25" y="161" width="9.5" height="482.5" fill="#000" rx="0"/>
<line x1="1417" y1="639.5" x2="1435" y2="639.5" stroke="#222" stroke-width="3.2" stroke-linecap="butt"/>
<line x1="1424.5" y1="620.48" x2="1435" y2="620.48" stroke="#222" stroke-width="3.2" stroke-linecap="butt"/>
<line x1="1424.5" y1="601.46" x2="1435" y2="601.46" stroke="#222" stroke-width="3.2" stroke-linecap="butt"/>
<line x1="1424.5" y1="582.44" x2="1435" y2="582.44" stroke="#222" stroke-width="3.2" stroke-linecap="butt"/>
<line x1="1424.5" y1="563.42" x2="1435" y2="563.42" stroke="#222" stroke-width="3.2" stroke-linecap="butt"/>
<line x1="1417" y1="544.4" x2="1435" y2="544.4" stroke="#222" stroke-width="3.2" stroke-linecap="butt"/>
<line x1="1424.5" y1="525.38" x2="1435" y2="525.38" stroke="#222" stroke-width="3.2" stroke-linecap="butt"/>
<line x1="1424.5" y1="506.36" x2="1435" y2="506.36" stroke="#222" stroke-width="3.2" stroke-linecap="butt"/>
<line x1="1424.5" y1="487.34000000000003" x2="1435" y2="487.34000000000003" stroke="#222" stroke-width="3.2" stroke-linecap="butt"/>
<line x1="1424.5" y1="468.32" x2="1435" y2="468.32" stroke="#222" stroke-width="3.2" stroke-linecap="butt"/>
<line x1="1417" y1="449.3" x2="1435" y2="449.3" stroke="#222" stroke-width="3.2" stroke-linecap="butt"/>
<line x1="1424.5" y1="430.28" x2="1435" y2="430.28" stroke="#222" stroke-width="3.2" stroke-linecap="butt"/>
<line x1="1424.5" y1="411.26" x2="1435" y2="411.26" stroke="#222" stroke-width="3.2" stroke-linecap="butt"/>
<line x1="1424.5" y1="392.24" x2="1435" y2="392.24" stroke="#222" stroke-width="3.2" stroke-linecap="butt"/>
<line x1="1424.5" y1="373.22" x2="1435" y2="373.22" stroke="#222" stroke-width="3.2" stroke-linecap="butt"/>
<line x1="1417" y1="354.2" x2="1435" y2="354.2" stroke="#222" stroke-width="3.2" stroke-linecap="butt"/>
<line x1="1424.5" y1="335.18" x2="1435" y2="335.18" stroke="#222" stroke-width="3.2" stroke-linecap="butt"/>
<line x1="1424.5" y1="316.16" x2="1435" y2="316.16" stroke="#222" stroke-width="3.2" stroke-linecap="butt"/>
<line x1="1424.5" y1="297.14" x2="1435" y2="297.14" stroke="#222" stroke-width="3.2" stroke-linecap="butt"/>
<line x1="1424.5" y1="278.12" x2="1435" y2="278.12" stroke="#222" stroke-width="3.2" stroke-linecap="butt"/>
<line x1="1417" y1="259.1" x2="1435" y2="259.1" stroke="#222" stroke-width="3.2" stroke-linecap="butt"/>
<line x1="1424.5" y1="240.07999999999998" x2="1435" y2="240.07999999999998" stroke="#222" stroke-width="3.2" stroke-linecap="butt"/>
<line x1="1424.5" y1="221.06" x2="1435" y2="221.06" stroke="#222" stroke-width="3.2" stroke-linecap="butt"/>
<line x1="1424.5" y1="202.04000000000002" x2="1435" y2="202.04000000000002" stroke="#222" stroke-width="3.2" stroke-linecap="butt"/>
<line x1="1424.5" y1="183.01999999999998" x2="1435" y2="183.01999999999998" stroke="#222" stroke-width="3.2" stroke-linecap="butt"/>
<line x1="1417" y1="164.0" x2="1435" y2="164.0" stroke="#222" stroke-width="3.2" stroke-linecap="butt"/>
<text x="1388.5" y="178.5" font-size="37.5" font-weight="normal" text-anchor="start" fill="#111" textLength="61.94" lengthAdjust="spacingAndGlyphs" transform="rotate(-90 1388.5 178.5)" stroke="#111" stroke-width="1.5">100</text>
<text x="1388.5" y="268.0" font-size="37.5" font-weight="normal" text-anchor="start" fill="#111" textLength="41.3" lengthAdjust="spacingAndGlyphs" transform="rotate(-90 1388.5 268.0)" stroke="#111" stroke-width="1.5">80</text>
<text x="1388.5" y="364.75" font-size="37.5" font-weight="normal" text-anchor="start" fill="#111" textLength="41.3" lengthAdjust="spacingAndGlyphs" transform="rotate(-90 1388.5 364.75)" stroke="#111" stroke-width="1.5">60</text>
<text x="1388.5" y="464.25" font-size="37.5" font-weight="normal" text-anchor="start" fill="#111" textLength="41.3" lengthAdjust="spacingAndGlyphs" transform="rotate(-90 1388.5 464.25)" stroke="#111" stroke-width="1.5">40</text>
<text x="1388.5" y="561.75" font-size="37.5" font-weight="normal" text-anchor="start" fill="#111" textLength="41.3" lengthAdjust="spacingAndGlyphs" transform="rotate(-90 1388.5 561.75)" stroke="#111" stroke-width="1.5">20</text>
<text x="1388.5" y="641.75" font-size="37.5" font-weight="normal" text-anchor="start" fill="#111" textLength="20.65" lengthAdjust="spacingAndGlyphs" transform="rotate(-90 1388.5 641.75)" stroke="#111" stroke-width="1.5">0</text>
<text x="1308.7" y="329.5" font-size="39" font-weight="normal" text-anchor="middle" fill="#000" textLength="132.5" lengthAdjust="spacingAndGlyphs" transform="rotate(-90 1308.7 329.5)" stroke="#000" stroke-width="1.6">Counts</text>
<line x1="1433" y1="641.5" x2="1952" y2="641.5" stroke="#0a0a0a" stroke-width="5.0" stroke-linecap="butt"/>
<line x1="1950" y1="641.0" x2="2131" y2="641.0" stroke="#000" stroke-width="5.5" stroke-linecap="butt"/>
<line x1="1433.75" y1="641.5" x2="1433.75" y2="655.0" stroke="#222" stroke-width="3.6" stroke-linecap="butt"/>
<line x1="1482.0013867574569" y1="641.5" x2="1482.0013867574569" y2="649.5" stroke="#333" stroke-width="3.0" stroke-linecap="butt"/>
<line x1="1512.1570148707422" y1="641.5" x2="1512.1570148707422" y2="649.5" stroke="#333" stroke-width="3.0" stroke-linecap="butt"/>
<line x1="1533.5527735149137" y1="641.5" x2="1533.5527735149137" y2="649.5" stroke="#333" stroke-width="3.0" stroke-linecap="butt"/>
<line x1="1550.1486132425432" y1="641.5" x2="1550.1486132425432" y2="649.5" stroke="#333" stroke-width="3.0" stroke-linecap="butt"/>
<line x1="1563.708401628199" y1="641.5" x2="1563.708401628199" y2="649.5" stroke="#333" stroke-width="3.0" stroke-linecap="butt"/>
<line x1="1575.1730393524415" y1="641.5" x2="1575.1730393524415" y2="649.5" stroke="#333" stroke-width="3.0" stroke-linecap="butt"/>
<line x1="1585.1041602723703" y1="641.5" x2="1585.1041602723703" y2="649.5" stroke="#333" stroke-width="3.0" stroke-linecap="butt"/>
<line x1="1593.8640297414845" y1="641.5" x2="1593.8640297414845" y2="649.5" stroke="#333" stroke-width="3.0" stroke-linecap="butt"/>
<text x="1400.5" y="697.7" font-size="38" fill="#111" stroke="#111" stroke-width="1.4" letter-spacing="-1.2">10<tspan font-size="24" dy="-15" dx="3">0</tspan></text>
<line x1="1605" y1="641.5" x2="1605" y2="655.0" stroke="#222" stroke-width="3.6" stroke-linecap="butt"/>
<line x1="1653.326644256373" y1="641.5" x2="1653.326644256373" y2="649.5" stroke="#333" stroke-width="3.0" stroke-linecap="butt"/>
<line x1="1683.5262951844222" y1="641.5" x2="1683.5262951844222" y2="649.5" stroke="#333" stroke-width="3.0" stroke-linecap="butt"/>
<line x1="1704.9532885127455" y1="641.5" x2="1704.9532885127455" y2="649.5" stroke="#333" stroke-width="3.0" stroke-linecap="butt"/>
<line x1="1721.5733557436272" y1="641.5" x2="1721.5733557436272" y2="649.5" stroke="#333" stroke-width="3.0" stroke-linecap="butt"/>
<line x1="1735.1529394407949" y1="641.5" x2="1735.1529394407949" y2="649.5" stroke="#333" stroke-width="3.0" stroke-linecap="butt"/>
<line x1="1746.634313862445" y1="641.5" x2="1746.634313862445" y2="649.5" stroke="#333" stroke-width="3.0" stroke-linecap="butt"/>
<line x1="1756.5799327691184" y1="641.5" x2="1756.5799327691184" y2="649.5" stroke="#333" stroke-width="3.0" stroke-linecap="butt"/>
<line x1="1765.3525903688442" y1="641.5" x2="1765.3525903688442" y2="649.5" stroke="#333" stroke-width="3.0" stroke-linecap="butt"/>
<text x="1574.5" y="697.7" font-size="38" fill="#111" stroke="#111" stroke-width="1.4" letter-spacing="-1.2">10<tspan font-size="24" dy="-15" dx="3">1</tspan></text>
<line x1="1776.5" y1="641.5" x2="1776.5" y2="655.0" stroke="#222" stroke-width="3.6" stroke-linecap="butt"/>
<line x1="1825.6544767444489" y1="641.5" x2="1825.6544767444489" y2="649.5" stroke="#333" stroke-width="3.0" stroke-linecap="butt"/>
<line x1="1856.3383786349011" y1="641.5" x2="1856.3383786349011" y2="649.5" stroke="#333" stroke-width="3.0" stroke-linecap="butt"/>
<line x1="1878.1089534888974" y1="641.5" x2="1878.1089534888974" y2="649.5" stroke="#333" stroke-width="3.0" stroke-linecap="butt"/>
<line x1="1894.9955232555512" y1="641.5" x2="1894.9955232555512" y2="649.5" stroke="#333" stroke-width="3.0" stroke-linecap="butt"/>
<line x1="1908.79285537935" y1="641.5" x2="1908.79285537935" y2="649.5" stroke="#333" stroke-width="3.0" stroke-linecap="butt"/>
<line x1="1920.4583334724844" y1="641.5" x2="1920.4583334724844" y2="649.5" stroke="#333" stroke-width="3.0" stroke-linecap="butt"/>
<line x1="1930.5634302333463" y1="641.5" x2="1930.5634302333463" y2="649.5" stroke="#333" stroke-width="3.0" stroke-linecap="butt"/>
<line x1="1939.4767572698024" y1="641.5" x2="1939.4767572698024" y2="649.5" stroke="#333" stroke-width="3.0" stroke-linecap="butt"/>
<text x="1741.5" y="697.7" font-size="38" fill="#111" stroke="#111" stroke-width="1.4" letter-spacing="-1.2">10<tspan font-size="24" dy="-15" dx="3">2</tspan></text>
<line x1="1950.75" y1="641.5" x2="1950.75" y2="655.0" stroke="#222" stroke-width="3.6" stroke-linecap="butt"/>
<line x1="1999.3776742520367" y1="641.5" x2="1999.3776742520367" y2="649.5" stroke="#333" stroke-width="3.0" stroke-linecap="butt"/>
<line x1="2029.7534164391418" y1="641.5" x2="2029.7534164391418" y2="649.5" stroke="#333" stroke-width="3.0" stroke-linecap="butt"/>
<line x1="2051.305348504073" y1="641.5" x2="2051.305348504073" y2="649.5" stroke="#333" stroke-width="3.0" stroke-linecap="butt"/>
<line x1="2068.022325747963" y1="641.5" x2="2068.022325747963" y2="649.5" stroke="#333" stroke-width="3.0" stroke-linecap="butt"/>
<line x1="2081.6810906911783" y1="641.5" x2="2081.6810906911783" y2="649.5" stroke="#333" stroke-width="3.0" stroke-linecap="butt"/>
<line x1="2093.229411902459" y1="641.5" x2="2093.229411902459" y2="649.5" stroke="#333" stroke-width="3.0" stroke-linecap="butt"/>
<line x1="2103.23302275611" y1="641.5" x2="2103.23302275611" y2="649.5" stroke="#333" stroke-width="3.0" stroke-linecap="butt"/>
<line x1="2112.0568328782833" y1="641.5" x2="2112.0568328782833" y2="649.5" stroke="#333" stroke-width="3.0" stroke-linecap="butt"/>
<text x="1906.5" y="697.7" font-size="38" fill="#111" stroke="#111" stroke-width="1.4" letter-spacing="-1.2">10<tspan font-size="24" dy="-15" dx="3">3</tspan></text>
<line x1="2123.25" y1="641.5" x2="2123.25" y2="655.0" stroke="#222" stroke-width="3.6" stroke-linecap="butt"/>
<text x="2084" y="697.7" font-size="38" fill="#111" stroke="#111" stroke-width="1.4" letter-spacing="-1.2">10<tspan font-size="24" dy="-15" dx="3">4</tspan></text>
<text x="1592.5" y="788" font-size="39.5" font-weight="bold" text-anchor="start" fill="#000" textLength="381" lengthAdjust="spacingAndGlyphs">Caspase-3 activation</text>
<line x1="1747.5" y1="359.8" x2="2065" y2="359.8" stroke="#000" stroke-width="4.6" stroke-linecap="butt"/>
<line x1="1747.5" y1="351.3" x2="1747.5" y2="371.8" stroke="#000" stroke-width="5" stroke-linecap="butt"/>
<line x1="2064" y1="348.8" x2="2064" y2="368.8" stroke="#000" stroke-width="5" stroke-linecap="butt"/>
<text x="1923.75" y="253.3" font-size="31.5" font-weight="bold" text-anchor="middle" fill="#1c1c1c" textLength="39.38" lengthAdjust="spacingAndGlyphs">M1</text>
<polygon points="1430.5,358 1442,358 1442,560 1445,575 1445,600 1430.5,600" fill="#000"/>
<text x="147.5" y="969.5" font-size="56" font-weight="bold" text-anchor="start" fill="#000" textLength="39" lengthAdjust="spacingAndGlyphs">C</text>
<rect x="320.75" y="1014.25" width="50.0" height="20.0" fill="#fff" stroke="#000" stroke-width="6.5" rx="1"/>
<rect x="320" y="1056" width="57.5" height="24.5" fill="#000" rx="3"/>
<text x="398.5" y="1035" font-size="31" font-weight="bold" text-anchor="start" fill="#000" letter-spacing="1.75">Control</text>
<text x="402.5" y="1078.75" font-size="31" font-weight="bold" text-anchor="start" fill="#000" letter-spacing="1.25">Garcinol</text>
<polyline points="382.5,1564.5 382.5,1531.75 496.75,1531.75 496.75,1564.5" fill="#fff" stroke="#000" stroke-width="7.5" stroke-linejoin="miter"/>
<rect x="410" y="1521.5" width="60" height="7" fill="#111" rx="1"/>
<rect x="437.5" y="1521.5" width="5" height="8.5" fill="#111" rx="0"/>
<rect x="499.5" y="1534.5" width="117.25" height="30.0" fill="#000" rx="0"/>
<rect x="525" y="1530.5" width="62.5" height="5" fill="#111" rx="1"/>
<rect x="553.75" y="1530.5" width="5" height="6.0" fill="#111" rx="0"/>
<polyline points="730.0,1564.5 730.0,1196.25 846.25,1196.25 846.25,1564.5" fill="#fff" stroke="#000" stroke-width="7.5" stroke-linejoin="miter"/>
<rect x="758.75" y="1179.5" width="60.0" height="5" fill="#111" rx="1"/>
<rect x="786.25" y="1179.5" width="5" height="15.0" fill="#111" rx="0"/>
<rect x="843.75" y="1283.75" width="122.0" height="280.75" fill="#000" rx="0"/>
<rect x="873.75" y="1274.5" width="62.5" height="5" fill="#111" rx="1"/>
<rect x="902.5" y="1274.5" width="5" height="11.25" fill="#111" rx="0"/>
<line x1="323.7" y1="1101.0" x2="323.7" y2="1567.0" stroke="#111" stroke-width="5.2" stroke-linecap="butt"/>
<line x1="309.7" y1="1564.5" x2="1022.5" y2="1564.5" stroke="#111" stroke-width="5.2" stroke-linecap="butt"/>
<line x1="309.7" y1="1103.75" x2="323.7" y2="1103.75" stroke="#111" stroke-width="4.6" stroke-linecap="butt"/>
<text x="305.2" y="1115.25" font-size="32.5" font-weight="bold" text-anchor="end" fill="#000">25</text>
<line x1="309.7" y1="1196.4" x2="323.7" y2="1196.4" stroke="#111" stroke-width="4.6" stroke-linecap="butt"/>
<text x="305.2" y="1207.9" font-size="32.5" font-weight="bold" text-anchor="end" fill="#000">20</text>
<line x1="309.7" y1="1288.6" x2="323.7" y2="1288.6" stroke="#111" stroke-width="4.6" stroke-linecap="butt"/>
<text x="305.2" y="1300.1" font-size="32.5" font-weight="bold" text-anchor="end" fill="#000">15</text>
<line x1="309.7" y1="1380.9" x2="323.7" y2="1380.9" stroke="#111" stroke-width="4.6" stroke-linecap="butt"/>
<text x="305.2" y="1392.4" font-size="32.5" font-weight="bold" text-anchor="end" fill="#000">10</text>
<line x1="309.7" y1="1473.1" x2="323.7" y2="1473.1" stroke="#111" stroke-width="4.6" stroke-linecap="butt"/>
<text x="305.2" y="1484.6" font-size="32.5" font-weight="bold" text-anchor="end" fill="#000">5</text>
<line x1="309.7" y1="1564.5" x2="323.7" y2="1564.5" stroke="#111" stroke-width="4.6" stroke-linecap="butt"/>
<text x="305.2" y="1576.0" font-size="32.5" font-weight="bold" text-anchor="end" fill="#000">0</text>
<line x1="498.25" y1="1564.5" x2="498.25" y2="1579.5" stroke="#111" stroke-width="4.4" stroke-linecap="butt"/>
<line x1="846.25" y1="1564.5" x2="846.25" y2="1579.5" stroke="#111" stroke-width="4.4" stroke-linecap="butt"/>
<text x="497" y="1612" font-size="33" font-weight="bold" text-anchor="middle" fill="#000" letter-spacing="0.9">resting</text>
<text x="845.6" y="1612" font-size="33" font-weight="bold" text-anchor="middle" fill="#000">CRP</text>
<text x="184" y="1333" font-size="39.3" font-weight="bold" text-anchor="middle" fill="#000" textLength="339" lengthAdjust="spacingAndGlyphs" transform="rotate(-90 184 1333)">Caspase 3-positive</text>
<text x="230" y="1334.5" font-size="39.3" font-weight="bold" text-anchor="middle" fill="#000" textLength="151" lengthAdjust="spacingAndGlyphs" transform="rotate(-90 230 1334.5)">cells [%]</text>
<line x1="548.75" y1="1110.75" x2="910.5" y2="1110.75" stroke="#111" stroke-width="5" stroke-linecap="butt"/>
<text x="724.5" y="1094" font-size="34.5" font-weight="normal" text-anchor="middle" fill="#111" stroke="#111" stroke-width="0.9">###</text>
<line x1="421.25" y1="1155" x2="787.5" y2="1155" stroke="#111" stroke-width="5" stroke-linecap="butt"/>
<text x="612" y="1146.5" font-size="34.5" font-weight="normal" text-anchor="middle" fill="#111" stroke="#111" stroke-width="0.9">###</text>
<line x1="794.5" y1="1164.5" x2="928" y2="1164.5" stroke="#111" stroke-width="4.4" stroke-linecap="butt"/>
<text x="870.5" y="1156" font-size="38" font-weight="bold" text-anchor="middle" fill="#111">**</text>
<text x="1316.5" y="969.5" font-size="56" font-weight="bold" text-anchor="start" fill="#000" textLength="41" lengthAdjust="spacingAndGlyphs">D</text>
<rect x="1452.75" y="1013.25" width="49.0" height="18.5" fill="#fff" stroke="#000" stroke-width="6.5" rx="1"/>
<rect x="1452.5" y="1053.75" width="57.5" height="25" fill="#000" rx="3"/>
<text x="1531" y="1032.5" font-size="31" font-weight="bold" text-anchor="start" fill="#000" letter-spacing="1.75">Control</text>
<text x="1535" y="1077.5" font-size="31" font-weight="bold" text-anchor="start" fill="#000" letter-spacing="1.25">Garcinol</text>
<polyline points="1514.25,1564 1514.25,1455.75 1629.25,1455.75 1629.25,1564" fill="#fff" stroke="#000" stroke-width="7.5" stroke-linejoin="miter"/>
<rect x="1545" y="1450" width="55" height="4" fill="#111" rx="1"/>
<rect x="1570.0" y="1450" width="5" height="4" fill="#111" rx="0"/>
<rect x="1632" y="1458" width="118" height="106" fill="#000" rx="0"/>
<rect x="1657.5" y="1455.5" width="62.5" height="4" fill="#111" rx="1"/>
<rect x="1686.25" y="1455.5" width="5" height="4.5" fill="#111" rx="0"/>
<polyline points="1863.25,1564 1863.25,1235.75 1979.5,1235.75 1979.5,1564" fill="#fff" stroke="#000" stroke-width="7.5" stroke-linejoin="miter"/>
<rect x="1890.75" y="1226" width="61.25" height="6" fill="#111" rx="1"/>
<rect x="1918.875" y="1226" width="5" height="8" fill="#111" rx="0"/>
<rect x="1976.5" y="1260" width="122.5" height="304" fill="#000" rx="0"/>
<rect x="2005.75" y="1253.5" width="65.0" height="7" fill="#111" rx="1"/>
<rect x="2035.75" y="1253.5" width="5" height="8.5" fill="#111" rx="0"/>
<line x1="1455.75" y1="1097.5" x2="1455.75" y2="1566.5" stroke="#111" stroke-width="5.2" stroke-linecap="butt"/>
<line x1="1441.75" y1="1564" x2="2155.75" y2="1564" stroke="#111" stroke-width="5.2" stroke-linecap="butt"/>
<line x1="1441.75" y1="1100.75" x2="1455.75" y2="1100.75" stroke="#111" stroke-width="4.6" stroke-linecap="butt"/>
<text x="1437.25" y="1112.25" font-size="32.5" font-weight="bold" text-anchor="end" fill="#000">40</text>
<line x1="1441.75" y1="1216.5" x2="1455.75" y2="1216.5" stroke="#111" stroke-width="4.6" stroke-linecap="butt"/>
<text x="1437.25" y="1228.0" font-size="32.5" font-weight="bold" text-anchor="end" fill="#000">30</text>
<line x1="1441.75" y1="1332.4" x2="1455.75" y2="1332.4" stroke="#111" stroke-width="4.6" stroke-linecap="butt"/>
<text x="1437.25" y="1343.9" font-size="32.5" font-weight="bold" text-anchor="end" fill="#000">20</text>
<line x1="1441.75" y1="1448.2" x2="1455.75" y2="1448.2" stroke="#111" stroke-width="4.6" stroke-linecap="butt"/>
<text x="1437.25" y="1459.7" font-size="32.5" font-weight="bold" text-anchor="end" fill="#000">10</text>
<line x1="1441.75" y1="1564" x2="1455.75" y2="1564" stroke="#111" stroke-width="4.6" stroke-linecap="butt"/>
<text x="1437.25" y="1575.5" font-size="32.5" font-weight="bold" text-anchor="end" fill="#000">0</text>
<line x1="1630" y1="1564" x2="1630" y2="1579" stroke="#111" stroke-width="4.4" stroke-linecap="butt"/>
<line x1="1980.25" y1="1564" x2="1980.25" y2="1579" stroke="#111" stroke-width="4.4" stroke-linecap="butt"/>
<text x="1629.5" y="1612" font-size="33" font-weight="bold" text-anchor="middle" fill="#000" letter-spacing="0.9">resting</text>
<text x="1979" y="1612" font-size="33" font-weight="bold" text-anchor="middle" fill="#000">CRP</text>
<text x="1363.5" y="1332" font-size="46.5" font-weight="bold" text-anchor="middle" fill="#000" textLength="339" lengthAdjust="spacingAndGlyphs" transform="rotate(-90 1363.5 1332)">Caspase 3 [MFI]</text>
<line x1="1682" y1="1108.75" x2="2043.25" y2="1108.75" stroke="#111" stroke-width="4.4" stroke-linecap="butt"/>
<text x="1856.5" y="1091.5" font-size="34.5" font-weight="normal" text-anchor="middle" fill="#111" stroke="#111" stroke-width="0.9">###</text>
<line x1="1553.75" y1="1152.5" x2="1919.5" y2="1152.5" stroke="#111" stroke-width="4.4" stroke-linecap="butt"/>
<text x="1744.5" y="1145" font-size="34.5" font-weight="normal" text-anchor="middle" fill="#111" stroke="#111" stroke-width="0.9">###</text>
<line x1="1930.75" y1="1201.75" x2="2063.25" y2="1201.75" stroke="#111" stroke-width="4.4" stroke-linecap="butt"/>
<text x="1992.5" y="1181" font-size="38" font-weight="bold" text-anchor="middle" fill="#111">*</text>
</g>
</svg>
</body></html>
